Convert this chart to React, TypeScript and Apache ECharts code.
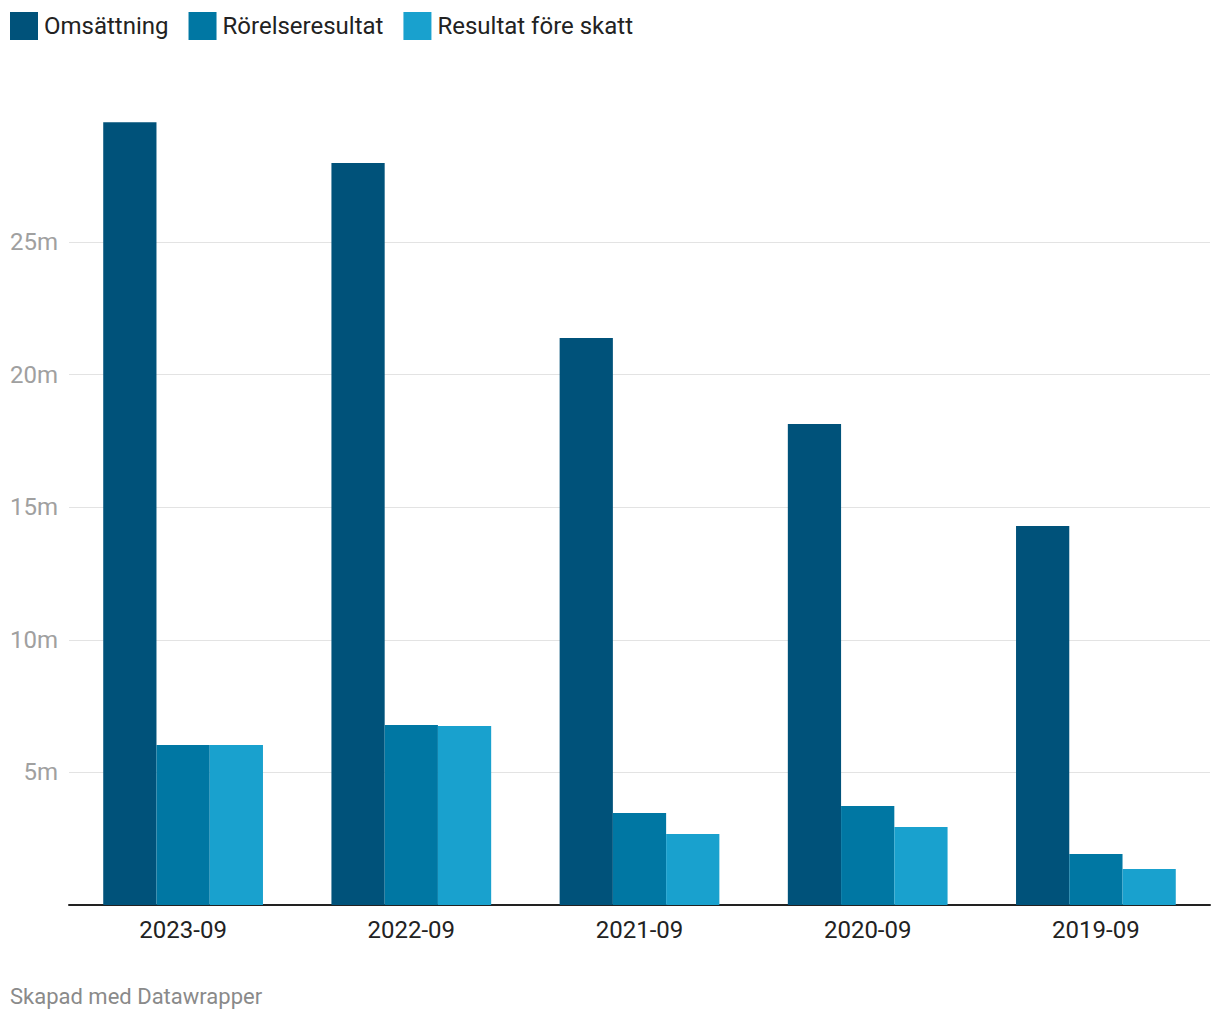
import React, { useEffect, useRef } from "react";
import * as echarts from "echarts";

const categories = ["2023-09", "2022-09", "2021-09", "2020-09", "2019-09"];
const omsattning = [29.52, 27.98, 21.38, 18.14, 14.29];
const rorelseresultat = [6.03, 6.79, 3.47, 3.73, 1.92];
const resultatForeSkatt = [6.03, 6.75, 2.68, 2.94, 1.36];
const seriesNames = ["Omsättning", "Rörelseresultat", "Resultat före skatt"];
const colors = ["#00527A", "#0077A3", "#19A1CE"];

export default function App() {
  const ref = useRef<HTMLDivElement>(null);
  useEffect(() => {
    document.body.style.margin = "0";
    const chart = echarts.init(ref.current!, null, { renderer: "svg" });
    const font = "Roboto";
    chart.setOption({
      animation: false,
      textStyle: { fontFamily: font },
      legend: {
        left: 5,
        top: 7,
        itemWidth: 28,
        itemHeight: 28,
        itemGap: 20,
        icon: "rect",
        textStyle: { fontFamily: font, fontSize: 24, color: "#222", padding: [0, 0, 0, 1] },
        data: seriesNames,
      },
      graphic: [
        {
          type: "text",
          left: 10,
          top: 985,
          style: { text: "Skapad med Datawrapper", fontFamily: font, fontSize: 22, fill: "#8a8a8a" },
        },
      ],
      grid: { left: 69, right: 10, top: 109.4, bottom: 115, containLabel: false },
      xAxis: {
        type: "category",
        data: categories,
        axisLine: { lineStyle: { color: "#222", width: 2 } },
        axisTick: { show: false },
        axisLabel: { fontFamily: font, fontSize: 24, color: "#222", margin: 13 },
      },
      yAxis: {
        type: "value",
        min: 0,
        max: 30,
        interval: 5,
        axisLine: { show: false },
        axisTick: { show: false },
        axisLabel: {
          fontFamily: font,
          fontSize: 24,
          color: "#a0a0a0",
          margin: 11,
          showMaxLabel: false,
          formatter: (v: number) => (v === 0 ? "" : v + "m"),
        },
        splitLine: { lineStyle: { color: "#e3e3e3", width: 1 }, showMaxLine: false, showMinLine: false },
      },
      series: [omsattning, rorelseresultat, resultatForeSkatt].map((d, i) => ({
        name: seriesNames[i],
        type: "bar",
        data: d,
        barGap: "0%",
        barCategoryGap: "30%",
        itemStyle: { color: colors[i] },
      })),
    });
    return () => chart.dispose();
  }, []);
  return <div ref={ref} style={{ position: "absolute", left: 0, top: 0, width: 1220, height: 1020 }} />;
}
